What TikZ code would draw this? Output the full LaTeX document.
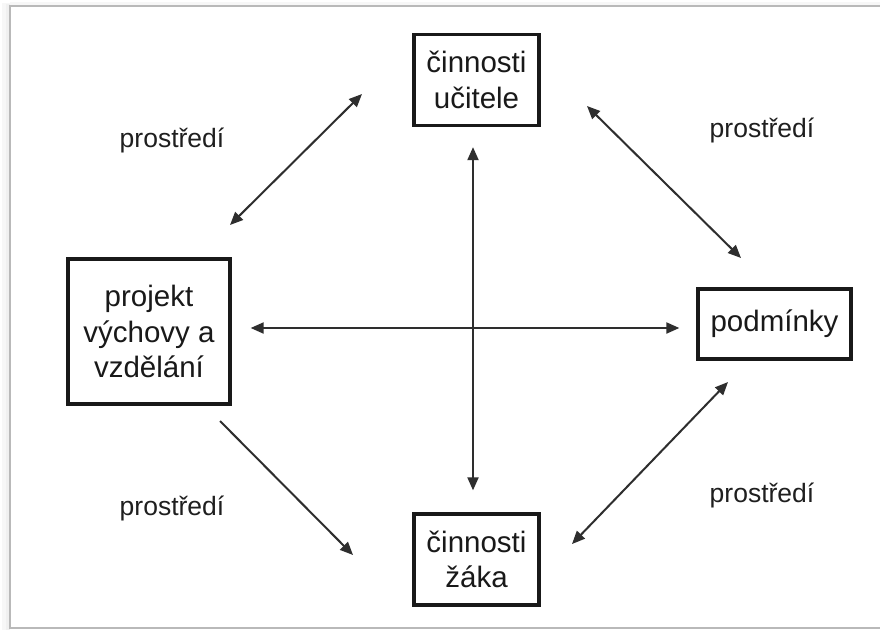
\documentclass[tikz,border=0pt]{standalone}
\usepackage{fontspec}
\setmainfont{Liberation Sans}
\usetikzlibrary{arrows.meta}
\newcommand\myboxfont{\fontsize{29.5}{35.5}\selectfont}
\newcommand\mylblfont{\fontsize{26.5}{31}\selectfont}
\begin{document}
\begin{tikzpicture}[x=1pt,y=-1pt]
\tikzset{
  box/.style={draw=black!90, line width=3.3pt, align=center, inner sep=0pt, font=\myboxfont, text=black!90},
  lbl/.style={font=\mylblfont, text=black!88},
  tipA/.tip={Triangle[length=13pt,width=11pt]},
  conn/.style={line width=2pt, draw=black!82, tipA-tipA},
  conn1/.style={line width=2pt, draw=black!82, -tipA},
}
\useasboundingbox (0,0) rectangle (880,630);
\fill[white] (0,0) rectangle (880,630);
% frame with shadow
\fill[gray!6] (2,3) rectangle (10,630);
\fill[gray!12] (6,4) rectangle (10,630);
\fill[gray!6] (10,2) rectangle (880,6);
\draw[gray!55, line width=1.5pt] (885,6) -- (10,6) -- (10,628) -- (885,628);
% nodes
\node[box, minimum width=125pt, minimum height=91pt] (uc) at (476.5,80) {činnosti\\učitele};
\node[box, minimum width=125pt, minimum height=91pt] (za) at (476.5,559.5) {činnosti\\žáka};
\node[box, minimum width=162pt, minimum height=145pt] (pr) at (149,331.5) {projekt\\výchovy a\\vzdělání};
\node[box, minimum width=153pt, minimum height=70pt] (po) at (774.5,324) {podmínky};
% labels
\node[lbl] (l1) at (172,140) {prostředí};
\node[lbl] (l2) at (762,130) {prostředí};
\node[lbl] (l3) at (172,508) {prostředí};
\node[lbl] (l4) at (762,495) {prostředí};
% connectors
\draw[conn] ([xshift=-3.5pt,yshift=-20pt]uc.south) -- ([xshift=-3.5pt,yshift=22pt]za.north);
\draw[conn] ([xshift=19pt,yshift=3.5pt]pr.east) -- ([xshift=-17pt,yshift=-4pt]po.west);
\coordinate (a1) at (362,94);
\coordinate (a2) at (230,225);
\coordinate (b1) at (587,106);
\coordinate (b2) at (741,258);
\coordinate (c1) at (220,421);
\coordinate (c2) at (353,555);
\coordinate (d1) at (728,382);
\coordinate (d2) at (572,544);
\draw[conn] (a1) -- (a2);
\draw[conn] (b1) -- (b2);
\draw[conn1] (c1) -- (c2);
\draw[conn] (d1) -- (d2);
\end{tikzpicture}
\end{document}
